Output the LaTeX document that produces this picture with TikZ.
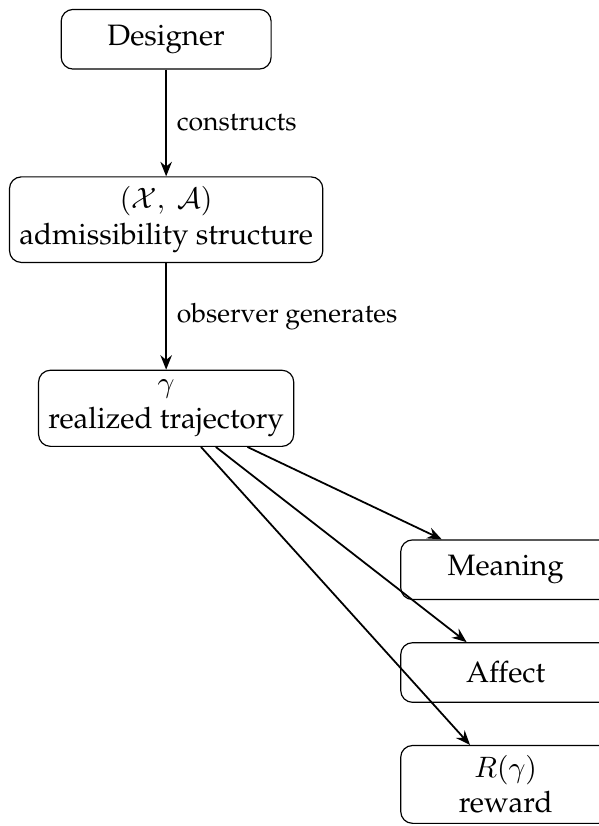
\documentclass[tikz,border=0pt]{standalone}
\usepackage[T1]{fontenc}
\usepackage{palatino}
\usepackage{amsmath}
\usetikzlibrary{positioning,arrows.meta,calc}

\begin{document}
\begin{tikzpicture}[
    node distance=1.27cm,
    box/.style={draw, rounded corners, minimum width=2.5cm, minimum height=0.71cm,
                align=center},
    arr/.style={-{Stealth[length=4.9pt, width=3.9pt]}, semithick},
    lbl/.style={right, font=\small},
  ]
  % main chain (left column)
  \node[box]                      (des)  {Designer};
  \node[box, below=of des]        (adm)  {$(\mathcal{X},\ \mathcal{A})$\\admissibility structure};
  \node[box, below=of adm]        (traj) {$\gamma$\\realized trajectory};
  % outcomes (right column, cut by the page edge)
  \node[box, below right=1.1cm and 1.26cm of traj] (mean) {Meaning};
  \node[box, below=0.5cm of mean] (aff)  {Affect};
  \node[box, below=0.5cm of aff]  (rew)  {$R(\gamma)$\\reward};

  \pgfresetboundingbox
  \useasboundingbox ($(des.north)+(-56.3pt,3pt)$)
    rectangle ($(rew.south -| des.north)+(146.5pt,-0.7pt)$);

  % arrows
  \draw[arr] (des)  -- node[lbl] {constructs} (adm);
  \draw[arr] (adm)  -- node[lbl] {observer generates} (traj);
  \draw[arr] (traj) -- (mean);
  \draw[arr] (traj) -- (aff);
  \draw[arr] (traj) -- (rew);
\end{tikzpicture}
\end{document}
